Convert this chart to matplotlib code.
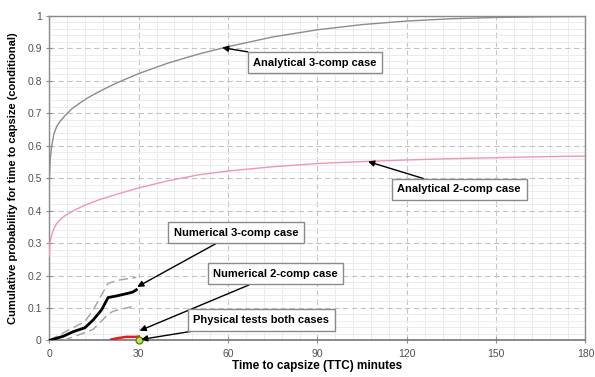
import matplotlib.pyplot as plt
import numpy as np
from matplotlib.ticker import MultipleLocator

plt.rcParams['font.family'] = ['Liberation Sans', 'DejaVu Sans']

# Analytical CDFs of time to capsize
ana3_t = [0, 0.3, 0.8, 1.5, 2.5, 3.6, 5, 7.5, 10, 13, 17, 22.5, 30, 40, 50,
          60, 75, 90, 105, 120, 135, 150, 165, 180]
ana3_p = [0.50, 0.56, 0.60, 0.635, 0.66, 0.675, 0.69, 0.713, 0.73, 0.748,
          0.768, 0.793, 0.822, 0.855, 0.882, 0.905, 0.935, 0.957, 0.973,
          0.984, 0.991, 0.995, 0.997, 0.998]

ana2_t = [0, 0.2, 0.6, 1.3, 2.3, 3.6, 5, 6.9, 9, 11.3, 14, 16.9, 22.5, 30, 40,
          50, 60, 75, 90, 105, 120, 135, 150, 165, 180]
ana2_p = [0.26, 0.30, 0.32, 0.34, 0.358, 0.372, 0.383, 0.393, 0.404, 0.414,
          0.424, 0.434, 0.45, 0.47, 0.492, 0.51, 0.522, 0.535, 0.545, 0.551,
          0.556, 0.56, 0.563, 0.566, 0.568]

# Numerical 3-comp estimate with confidence bounds
num3_t = [0, 4.7, 8, 11.9, 14.7, 17.5, 19.7, 22.5, 26.3, 28, 29.2]
num3_p = [0, 0.013, 0.027, 0.039, 0.063, 0.094, 0.132, 0.137, 0.145, 0.149, 0.156]
num3_hi_t = [0, 6, 11.9, 14.7, 19.7, 23.9, 29.2]
num3_hi_p = [0, 0.03, 0.058, 0.094, 0.176, 0.187, 0.194]
num3_lo_t = [4.7, 11.9, 14.7, 19.7, 21.4, 25.8, 29.2]
num3_lo_p = [0, 0.024, 0.034, 0.08, 0.09, 0.1, 0.107]

# Numerical 2-comp estimate
num2_t = [20.8, 23.6, 25.8, 29, 30]
num2_p = [0.003, 0.008, 0.011, 0.011, 0.012]

# Physical model tests
phys_t = [30]
phys_p = [0]

ytick_labels = ['0', '0.1', '0.2', '0.3', '0.4', '0.5', '0.6', '0.7',
                '0.8', '0.9', '1']

fig = plt.figure(figsize=(5.95, 3.77), dpi=100)
ax = fig.add_axes([0.083, 0.097, 0.901, 0.861])

ax.plot(ana3_t, ana3_p, color='#8c8c8c', lw=1.0, zorder=3)
ax.plot(ana2_t, ana2_p, color='#ef98aa', lw=1.0, zorder=3)
ax.plot(num3_hi_t, num3_hi_p, color='#a6a6a6', lw=1.1, ls=(0, (6, 3)), zorder=3)
ax.plot(num3_lo_t, num3_lo_p, color='#a6a6a6', lw=1.1, ls=(0, (6, 3)), zorder=3)
ax.plot(num3_t, num3_p, color='black', lw=2.0, zorder=4)
ax.plot(num2_t, num2_p, color='#e02020', lw=1.8, zorder=4)
ax.plot(phys_t, phys_p, 'o', ms=5, mfc='#c8e040', mec='#4a8a20', mew=1.0,
        zorder=6, clip_on=False)

ax.set_xlim(0, 180)
ax.set_ylim(0, 1)
ax.xaxis.set_major_locator(MultipleLocator(30))
ax.xaxis.set_minor_locator(MultipleLocator(6))
ax.yaxis.set_minor_locator(MultipleLocator(0.02))
ax.set_yticks(np.arange(0, 1.01, 0.1))
ax.set_yticklabels(ytick_labels)

ax.grid(which='minor', color='#ececec', lw=0.7, zorder=0)
ax.grid(which='major', color='#c4c4c4', lw=0.8, ls=(0, (5, 3)), zorder=1)
ax.set_axisbelow(True)

for s in ax.spines.values():
    s.set_color('#8a8a8a')
    s.set_linewidth(1.0)
ax.spines['bottom'].set_color('#808080')
ax.spines['bottom'].set_linewidth(1.3)

ax.tick_params(which='major', direction='inout', length=4, color='#8a8a8a',
               labelsize=7.5, labelcolor='#505050')
ax.tick_params(which='minor', length=0)
ax.tick_params(axis='x', pad=4)

ax.set_xlabel('Time to capsize (TTC) minutes', fontsize=8.5, fontweight='bold',
              labelpad=1)
ax.set_ylabel('Cumulative probability for time to capsize (conditional)',
              fontsize=8, fontweight='bold', labelpad=7)

box = dict(boxstyle='square,pad=0.5', fc='white', ec='#8a8a8a', lw=1.0)
arrow = dict(arrowstyle='-|>', color='black', lw=1.0, mutation_scale=9,
             shrinkA=0, shrinkB=0)

notes = [
    ('Analytical 3-comp case', (58, 0.902), (89.2, 0.855)),
    ('Analytical 2-comp case', (107, 0.551), (137.6, 0.465)),
    ('Numerical 3-comp case', (29.5, 0.165), (62.6, 0.332)),
    ('Numerical 2-comp case', (30.3, 0.03), (75.9, 0.205)),
    ('Physical tests both cases', (30.8, 0.003), (71.2, 0.063)),
]
for label, xy, xytext in notes:
    ax.annotate(label, xy=xy, xytext=xytext, ha='center', va='center',
                fontsize=8, fontweight='bold', bbox=box, arrowprops=arrow,
                zorder=7)

fig.savefig('out.png', dpi=100)
